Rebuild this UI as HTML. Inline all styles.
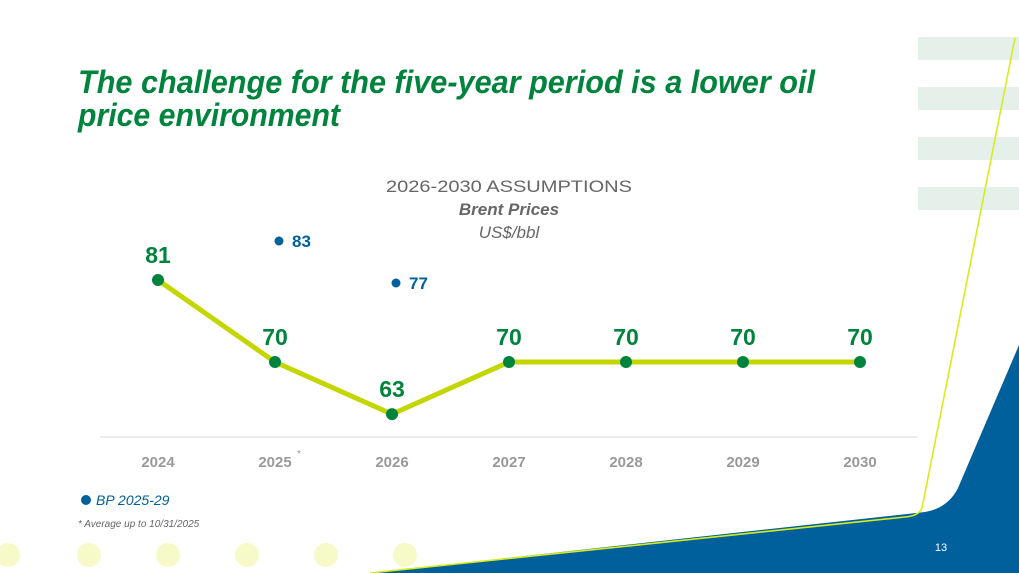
<!DOCTYPE html>
<html><head><meta charset="utf-8"><style>
html,body{margin:0;padding:0;background:#fff;}
svg{display:block;font-family:"Liberation Sans",sans-serif;}
</style></head><body>
<svg id="chart" width="1019" height="573" viewBox="0 0 1019 573">
  <g fill="#e4f0e9">
    <rect x="918" y="37" width="101" height="23"/>
    <rect x="918" y="87" width="101" height="23"/>
    <rect x="918" y="137" width="101" height="23"/>
    <rect x="918" y="187" width="101" height="23"/>
  </g>
  <path d="M370,573 L925,512 Q948,508 958,488 L1019,345 L1019,573 Z" fill="#00609c"/>
  <path d="M1015,38 L922,508 Q919,516 905,517 L370,573" fill="none" stroke="#d7ec1c" stroke-width="1.6"/>
  <g fill="#f6fac8">
    <circle cx="8" cy="555" r="12"/><circle cx="89" cy="555" r="12"/><circle cx="168" cy="555" r="12"/>
    <circle cx="247" cy="555" r="12"/><circle cx="326" cy="555" r="12"/><circle cx="405" cy="555" r="12"/>
  </g>
  <text x="78" y="93" font-size="32" font-weight="bold" font-style="italic" fill="#00843d" textLength="737" lengthAdjust="spacingAndGlyphs">The challenge for the five-year period is a lower oil</text>
  <text x="78" y="126" font-size="32" font-weight="bold" font-style="italic" fill="#00843d" textLength="262" lengthAdjust="spacingAndGlyphs">price environment</text>
  <text x="509" y="192" font-size="17" fill="#666" text-anchor="middle" textLength="246" lengthAdjust="spacingAndGlyphs">2026-2030 ASSUMPTIONS</text>
  <text x="509" y="215" font-size="17" font-weight="bold" font-style="italic" fill="#666" text-anchor="middle">Brent Prices</text>
  <text x="509" y="238" font-size="17" font-style="italic" fill="#666" text-anchor="middle">US$/bbl</text>
  <line x1="100" y1="437" x2="918" y2="437" stroke="#ececec" stroke-width="2"/>
  <g id="plot"></g>
  <circle cx="86" cy="500" r="5" fill="#00609c"/>
  <text x="96" y="505" font-size="14" font-style="italic" fill="#00609c">BP 2025-29</text>
  <text x="78" y="527" font-size="10" font-style="italic" fill="#666">* Average up to 10/31/2025</text>
  <text x="941" y="551" font-size="11" fill="#fff" text-anchor="middle">13</text>
</svg>
<script>
const years = ["2024","2025","2026","2027","2028","2029","2030"];
const brent = [81,70,63,70,70,70,70];
const bpYears = ["2025","2026"];
const bpValues = [83,77];

const NS="http://www.w3.org/2000/svg";
const plot=document.getElementById('plot');
function x(i){return 158+i*117;}
function y(v){return 362-(v-70)*7.45;}
function yb(v){return 283-(v-77)*7;}
function mk(tag,attrs){const e=document.createElementNS(NS,tag);for(const k in attrs)e.setAttribute(k,attrs[k]);plot.appendChild(e);return e;}

years.forEach((yr,i)=>{
  const t=mk('text',{x:x(i),y:467,'font-size':15,'font-weight':'bold',fill:'#999','text-anchor':'middle'});
  
  
  t.textContent=yr;
  if(yr==="2025"){const s=mk('text',{x:x(i)+22,y:457,'font-size':10,fill:'#999'});s.textContent='*';}
});

const pts=brent.map((v,i)=>x(i)+','+y(v)).join(' ');
const line=mk('polyline',{points:pts,fill:'none',stroke:'#c4d600','stroke-width':5,'stroke-linejoin':'round'});



brent.forEach((v,i)=>{
  const c=mk('circle',{cx:x(i),cy:y(v),r:6,fill:'#00843d'});
  
  
  const t=mk('text',{x:x(i),y:y(v)-17,'font-size':23,'font-weight':'bold',fill:'#00843d','text-anchor':'middle'});
  
  
  t.textContent=v;
});

bpValues.forEach((v,j)=>{
  const i=years.indexOf(bpYears[j]);
  const c=mk('circle',{cx:x(i)+4,cy:yb(v),r:4.5,fill:'#00609c'});
  
  
  const t=mk('text',{x:x(i)+17,y:yb(v)+6,'font-size':17,'font-weight':'bold',fill:'#00609c'});
  
  
  t.textContent=v;
});
</script>
</body></html>
